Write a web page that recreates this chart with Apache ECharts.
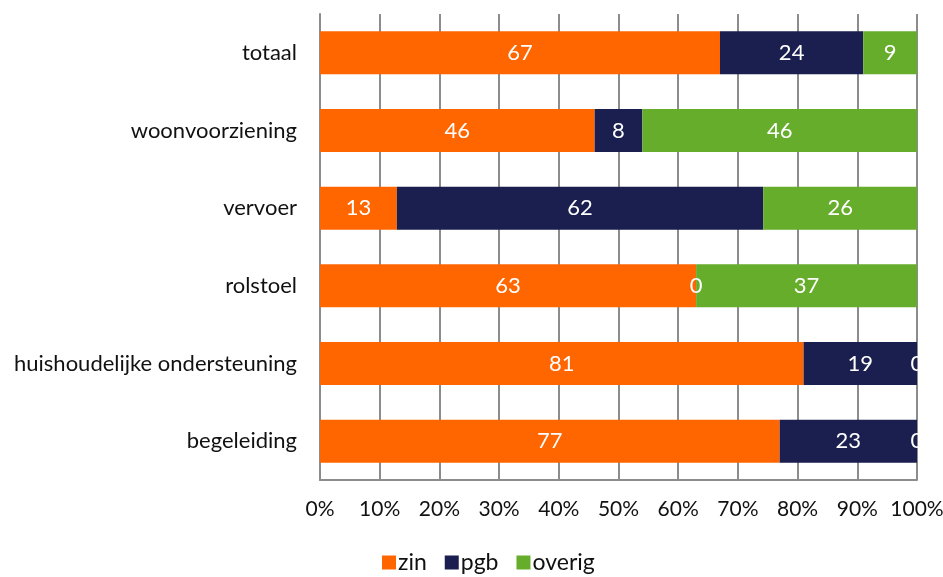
<!DOCTYPE html>
<html>
<head>
<meta charset="utf-8">
<script src="https://cdn.jsdelivr.net/npm/echarts@6/dist/echarts.min.js"></script>
<style>
  html, body { margin: 0; padding: 0; background: #fff; }
  #chart { width: 943px; height: 577px; }
</style>
</head>
<body>
<div id="chart"></div>
<script>
var categories = ['totaal', 'woonvoorziening', 'vervoer', 'rolstoel', 'huishoudelijke ondersteuning', 'begeleiding'];
var zin = [67, 46, 13, 63, 81, 77];
var pgb = [24, 8, 62, 0, 19, 23];
var overig = [9, 46, 26, 37, 0, 0];
var xTicks = [0, 10, 20, 30, 40, 50, 60, 70, 80, 90, 100];

(function(){
    var chart = echarts.init(document.getElementById('chart'));
    var font = 'Lato, "Open Sans", sans-serif';

    // rows are shown as 100% stacks, so scale each row to its own total
    var totals = categories.map(function(c, i){ return zin[i] + pgb[i] + overig[i]; });
    function share(arr) {
        return arr.map(function(v, i){ return { value: v / totals[i] * 100, raw: v }; });
    }

    function bar(name, arr) {
        return {
            name: name,
            type: 'bar',
            stack: 'all',
            barWidth: 43,
            label: {
                show: true,
                position: 'inside',
                color: '#fff',
                fontFamily: font,
                fontSize: 22,
                formatter: function(p){ return p.data.raw; }
            },
            data: share(arr)
        };
    }

    var option = {
        animation: false,
        color: ['#FF6600', '#1B1F50', '#66AD2B'],
        legend: {
            bottom: -2,
            left: 377,
            itemWidth: 14,
            itemHeight: 14,
            itemGap: 18,
            icon: 'rect',
            textStyle: { fontFamily: font, fontSize: 23, color: '#111', padding: [0, 0, 0, -3] },
            data: ['zin', 'pgb', 'overig']
        },
        grid: { left: 320, right: 26, top: 14, bottom: 97, outerBoundsMode: 'none' },
        xAxis: {
            type: 'value',
            min: 0,
            max: 100,
            interval: 10,
            axisLine: { show: true, lineStyle: { color: '#8c8c8c', width: 2 } },
            axisTick: { show: false },
            splitLine: { show: true, lineStyle: { color: '#8c8c8c', width: 2 } },
            axisLabel: {
                margin: 19,
                color: '#111',
                fontFamily: font,
                fontSize: 21,
                formatter: function(v){ return v + '%'; }
            }
        },
        yAxis: {
            type: 'category',
            inverse: true,
            data: categories,
            axisLine: { show: true, lineStyle: { color: '#8c8c8c', width: 2 } },
            axisTick: { show: false },
            axisLabel: {
                margin: 23,
                color: '#111',
                fontFamily: font,
                fontSize: 22
            }
        },
        series: [
            bar('zin', zin),
            bar('pgb', pgb),
            bar('overig', overig)
        ]
    };

    chart.setOption(option);
})();
</script>
</body>
</html>
